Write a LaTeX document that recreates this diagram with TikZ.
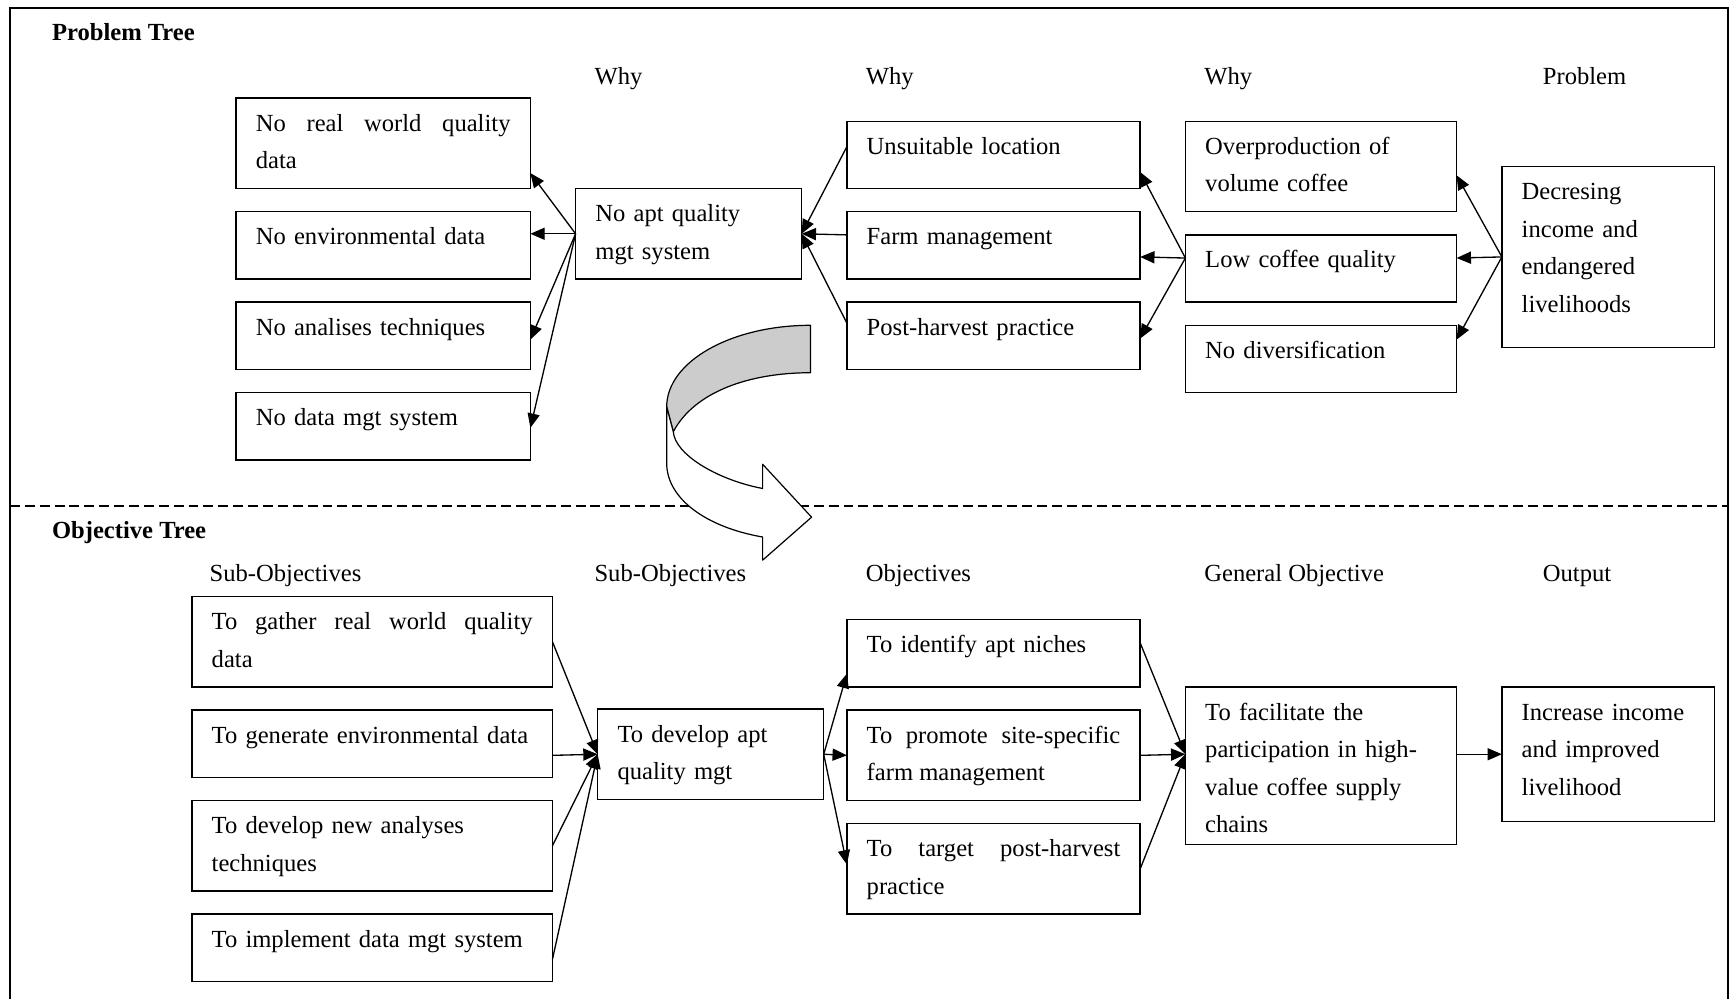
\documentclass[tikz,border=0pt]{standalone}
\usepackage{fontspec}
\setmainfont{Liberation Serif}
\usepackage{tikz}
\usetikzlibrary{arrows.meta,calc,positioning}
\newcommand{\treefont}{\fontsize{22.3}{34}\selectfont}
\tikzset{
  treebox/.style={draw,line width=1.4pt,inner xsep=18pt,inner ysep=0pt,outer sep=0pt,
    text height=30pt,align=left,font=\treefont},
  colhead/.style={anchor=base west,inner sep=0pt,font=\treefont},
  treetitle/.style={anchor=base west,inner sep=0pt,font=\treefont\bfseries},
  link/.style={-{Triangle[length=13pt,width=11pt]},line width=1.2pt},
  frameline/.style={line width=1.5pt},
  divider/.style={line width=1.2pt,dash pattern=on 9pt off 4.5pt},
  bandline/.style={line width=1.1pt,line join=round}
}

\begin{document}
\begin{tikzpicture}[x=1pt,y=-1pt]
  \useasboundingbox (0,0) rectangle (1568,906);
  \draw[frameline] (9,906) -- (9,7) -- (1567,7) -- (1567,906);
  \draw[divider] (9,459) -- (1567,459);

  % problem tree
  \node[treetitle] (ptitle) at (47,37) {Problem Tree};
  \node[colhead] (hwhy1) at (539,77) {Why};
  \node[colhead] (hwhy2) at (785,77) {Why};
  \node[colhead] (hwhy3) at (1092,77) {Why};
  \node[colhead] (hprob) at (1399,77) {Problem};

  \node[treebox,anchor=north west,text width=231pt,text depth=52pt,align=justify]
    (pq1) at (214,89) {No real world quality \linebreak data};
  \node[treebox,text width=231pt,text depth=31pt,below=21pt of pq1] (pq2) {No environmental data};
  \node[treebox,text width=231pt,text depth=31pt,below=21pt of pq2] (pq3) {No analises techniques};
  \node[treebox,text width=231pt,text depth=31pt,below=21pt of pq3] (pq4) {No data mgt system};

  \node[treebox,anchor=north west,text width=169pt,text depth=52pt]
    (pcore) at (522,171) {No apt quality\\mgt system};

  \node[treebox,anchor=north west,text width=230pt,text depth=31pt]
    (pu) at (768,110) {Unsuitable location};
  \node[treebox,text width=230pt,text depth=31pt,below=21pt of pu] (pf) {Farm management};
  \node[treebox,text width=230pt,text depth=31pt,below=21pt of pf] (pp) {Post-harvest practice};

  \node[treebox,anchor=north west,text width=210pt,text depth=52pt]
    (pover) at (1075,110) {Overproduction of\\volume coffee};
  \node[treebox,text width=210pt,text depth=31pt,below=21pt of pover] (plow) {Low coffee quality};
  \node[treebox,text width=210pt,text depth=31pt,below=21pt of plow] (pnodiv) {No diversification};

  \node[treebox,anchor=north west,text width=157pt,text depth=134pt]
    (pmain) at (1362,151) {Decresing\\income and\\endangered\\livelihoods};

  \draw[link] (pcore.west) -- ($(pq1.south east)+(0,-14)$);
  \draw[link] (pcore.west) -- (pcore.west -| pq2.east);
  \draw[link] (pcore.west) -- ($(pq3.north east)+(0,34)$);
  \draw[link] (pcore.west) -- ($(pq4.north east)+(0,32)$);
  \draw[link] ($(pu.north west)+(0,23)$) -- (pcore.east);
  \draw[link] ($(pf.north west)+(0,21)$) -- (pcore.east);
  \draw[link] ($(pp.north west)+(0,19)$) -- (pcore.east);
  \draw[link] ($(plow.north west)+(0,21)$) -- ($(pu.south east)+(0,-15)$);
  \draw[link] ($(plow.north west)+(0,21)$) -- ($(pf.north east)+(0,41)$);
  \draw[link] ($(plow.north west)+(0,21)$) -- ($(pp.north east)+(0,33)$);
  \draw[link] (pmain.west) -- ($(pover.north east)+(0,49)$);
  \draw[link] (pmain.west) -- ($(plow.north east)+(0,21)$);
  \draw[link] (pmain.west) -- ($(pnodiv.north east)+(0,13)$);

  % turning arrow
  \draw[bandline,fill=black!20] (735,295) .. controls (663,295) and (604.6,328) .. (604.6,369)
    -- (610.6,391.5) .. controls (630,355) and (680,338) .. (735,338) -- cycle;
  \draw[bandline,fill=white] (604.6,369) -- (604.6,420)
    .. controls (604.6,452) and (640,478) .. (691.6,487) -- (691.6,508) -- (736,469)
    -- (691.6,421) -- (691.6,443) .. controls (650,435) and (612,412) .. (610.6,391.5) -- cycle;

  % objective tree
  \node[treetitle] (otitle) at (47,488) {Objective Tree};
  \node[colhead] (hsub1) at (190,527) {Sub-Objectives};
  \node[colhead] (hsub2) at (539,527) {Sub-Objectives};
  \node[colhead] (hobj) at (785,527) {Objectives};
  \node[colhead] (hgen) at (1092,527) {General Objective};
  \node[colhead] (hout) at (1399,527) {Output};

  \node[treebox,anchor=north west,text width=291pt,text depth=52pt,align=justify]
    (og1) at (174,541) {To gather real world quality \linebreak data};
  \node[treebox,text width=291pt,text depth=31pt,below=21pt of og1] (og2) {\mbox{To generate environmental data}};
  \node[treebox,text width=291pt,text depth=52pt,below=21pt of og2] (og3) {To develop new analyses\\techniques};
  \node[treebox,text width=291pt,text depth=31pt,below=21pt of og3] (og4) {To implement data mgt system};

  \node[treebox,anchor=north west,text width=169pt,text depth=52pt]
    (ocore) at (542,643) {To develop apt\\quality mgt};

  \node[treebox,anchor=north west,text width=230pt,text depth=31pt]
    (on) at (768,562) {To identify apt niches};
  \node[treebox,text width=230pt,text depth=52pt,below=21pt of on,align=justify]
    (op) {To promote site-specific \linebreak farm management};
  \node[treebox,text width=230pt,text depth=52pt,below=21pt of op,align=justify]
    (ot) {To target post-harvest \linebreak practice};

  \node[treebox,anchor=north west,text width=210pt,text depth=113pt]
    (ofac) at (1075,623) {To facilitate the\\participation in high-\\value coffee supply\\chains};
  \node[treebox,anchor=north west,text width=157pt,text depth=92pt]
    (oout) at (1362,623) {Increase income\\and improved\\livelihood};

  \draw[link] (og1.east) -- (ocore.west);
  \draw[link] ($(og2.north east)+(0,41)$) -- (ocore.west);
  \draw[link] (og3.east) -- (ocore.west);
  \draw[link] ($(og4.north east)+(0,41)$) -- (ocore.west);
  \draw[link] (ocore.east) -- ($(on.south west)+(0,-12)$);
  \draw[link] (ocore.east) -- (op.west);
  \draw[link] (ocore.east) -- ($(ot.north west)+(0,37)$);
  \draw[link] ($(on.north east)+(0,21)$) -- ($(ofac.north west)+(0,61)$);
  \draw[link] (op.east) -- ($(ofac.north west)+(0,61)$);
  \draw[link] (ot.east) -- ($(ofac.north west)+(0,61)$);
  \draw[link] ($(ofac.north east)+(0,61)$) -- (oout.west);
\end{tikzpicture}
\end{document}
